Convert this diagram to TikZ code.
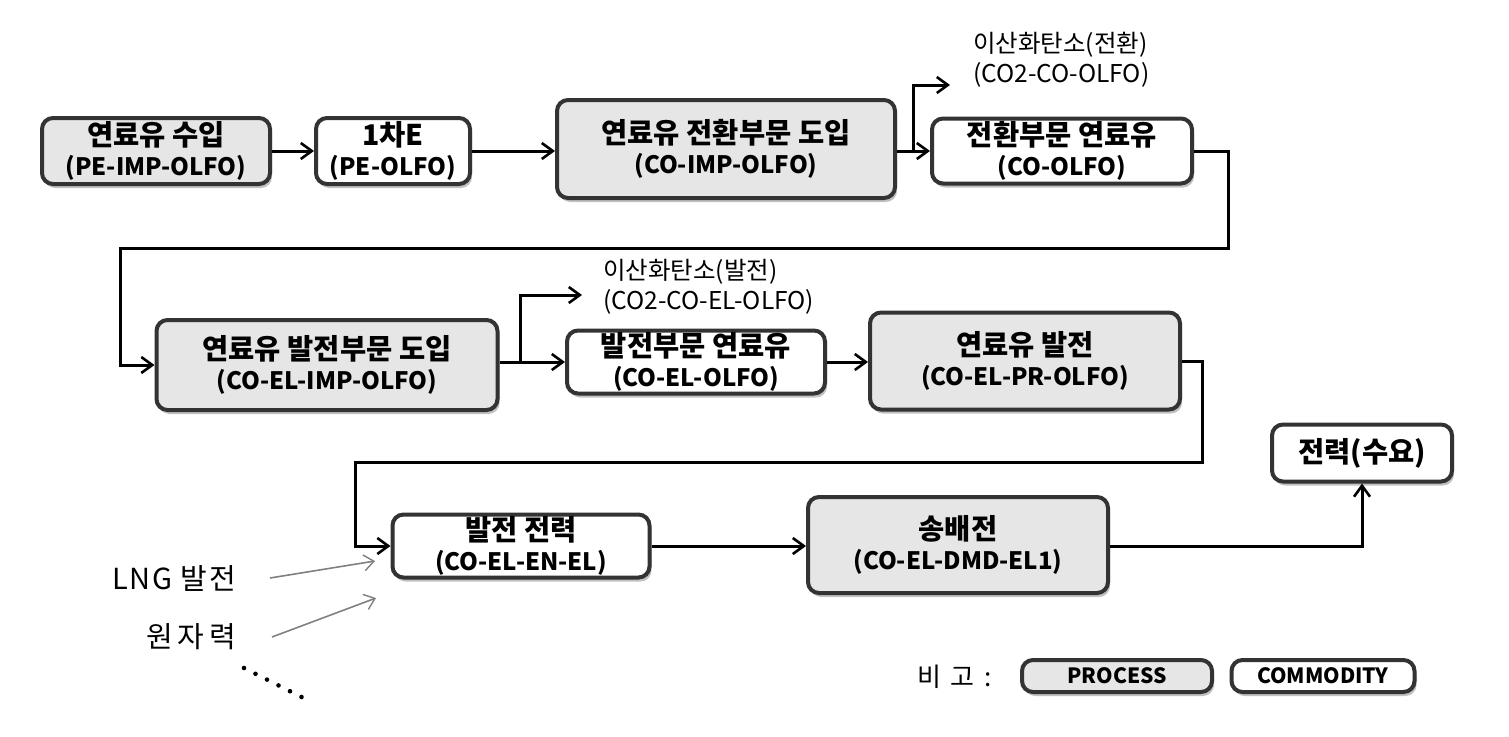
\documentclass[tikz,border=0pt]{standalone}
\usepackage{fontspec}
\setmainfont{Noto Sans CJK KR}
\usetikzlibrary{arrows.meta,shadows}
\definecolor{boxgray}{HTML}{E6E6E6}
\definecolor{edgec}{HTML}{333333}
\newcommand\bxt[2]{{\fontsize{28.5}{30}\selectfont #1}\\{\fontsize{24}{30}\selectfont #2}}
\tikzset{
  box/.style={draw=edgec, line width=4pt, rounded corners=11pt, align=center, inner sep=0pt,
    font=\fontsize{28.5}{30}\selectfont\bfseries,
    drop shadow={shadow xshift=2pt, shadow yshift=-4pt, opacity=0.35, fill=black!70}},
  proc/.style={box, fill=boxgray},
  comm/.style={box, fill=white},
  lbl/.style={font=\fontsize{24.5}{30}\selectfont, align=left, inner sep=0pt},
  side/.style={font=\fontsize{29}{30}\selectfont, inner sep=0pt},
  arr/.style={line width=3pt, -{Straight Barb[length=11pt,width=16pt,line width=2.6pt]}},
  garr/.style={draw=gray, line width=1.6pt, -{Straight Barb[length=10pt,width=16pt,line width=1.4pt]}},
}
\begin{document}
\begin{tikzpicture}[x=1pt,y=-1pt]
\useasboundingbox (0,0) rectangle (1509,736);
% row 1
\node[proc, minimum width=228pt, minimum height=66pt] (A) at (156,151) {\bxt{연료유 수입}{(PE-IMP-OLFO)}};
\node[comm, minimum width=154pt, minimum height=66pt] (B) at (393,151) {\bxt{1차E}{(PE-OLFO)}};
\node[proc, minimum width=338pt, minimum height=98pt] (C) at (726,149) {\bxt{연료유 전환부문 도입}{(CO-IMP-OLFO)}};
\node[comm, minimum width=260pt, minimum height=65pt] (D) at (1062,151) {\bxt{전환부문 연료유}{(CO-OLFO)}};
% row 2
\node[proc, minimum width=341pt, minimum height=90pt] (E) at (327,365) {\bxt{연료유 발전부문 도입}{(CO-EL-IMP-OLFO)}};
\node[comm, minimum width=258pt, minimum height=63pt] (F) at (696,362) {\bxt{발전부문 연료유}{(CO-EL-OLFO)}};
\node[proc, minimum width=310pt, minimum height=97pt] (G) at (1025,361) {\bxt{연료유 발전}{(CO-EL-PR-OLFO)}};
% row 3
\node[comm, minimum width=257pt, minimum height=63pt] (H) at (521,546) {\bxt{발전 전력}{(CO-EL-EN-EL)}};
\node[proc, minimum width=300pt, minimum height=96pt] (J) at (958,545) {\bxt{송배전}{(CO-EL-DMD-EL1)}};
\node[comm, minimum width=180pt, minimum height=57pt] (I) at (1362,453) {전력(수요)};
% labels
\node[lbl, anchor=west] (L1) at (973,60) {이산화탄소(전환)\\(CO2-CO-OLFO)};
\node[lbl, anchor=west] (L2) at (603,287) {이산화탄소(발전)\\(CO2-CO-EL-OLFO)};
\node[side, anchor=east] (LNG) at (236,578) {\addfontfeature{LetterSpace=6}LNG 발전};
\node[side, anchor=east] (NUC) at (236,637) {\addfontfeature{LetterSpace=16}원자력};
% legend
\node[side, anchor=east, font=\fontsize{26}{30}\selectfont] (BG) at (992,677) {\addfontfeature{LetterSpace=15}비 고 :};
\node[proc, minimum width=190pt, minimum height=32pt, font=\fontsize{21}{22}\selectfont\bfseries] (P) at (1117,676) {PROCESS};
\node[comm, minimum width=183pt, minimum height=32pt, font=\fontsize{21}{22}\selectfont\bfseries] (Q) at (1323,676) {COMMODITY};
% coordinates
\coordinate (b1) at (913,151);
\coordinate (c1) at (950,85);
\coordinate (b2) at (520,362);
\coordinate (c2) at (582,295);
\coordinate (g1) at (270,578);
\coordinate (g2) at (375,561);
\coordinate (n1) at (272,637);
\coordinate (n2) at (376,598);
% connectors
\draw[arr] (A) -- (B);
\draw[arr] (B.east) -- (B.east -| C.west);
\draw[arr] (C.east |- D.west) -- (D.west);
\draw[arr] (b1) |- (c1);
\draw[arr] (D.east) -- (1228,151) -- (1228,248) -- (120,248) -- (120,365) -- (E.west);
\draw[arr] (E.east |- F.west) -- (F.west);
\draw[arr] (b2) |- (c2);
\draw[arr] (F) -- (F -| G.west);
\draw[arr] (G.east) -- (1202,361) -- (1202,462) -- (355,462) -- (355,546) -- (H.west);
\draw[arr] (H.east) -- (H.east -| J.west);
\draw[arr] (J.east |- H.east) -| (I.south);
\draw[garr] (g1) -- (g2);
\draw[garr] (n1) -- (n2);
\foreach \i in {0,...,5} \fill ({244+\i*11.5},{668+\i*5.8}) circle (2.3pt);
\end{tikzpicture}
\end{document}
